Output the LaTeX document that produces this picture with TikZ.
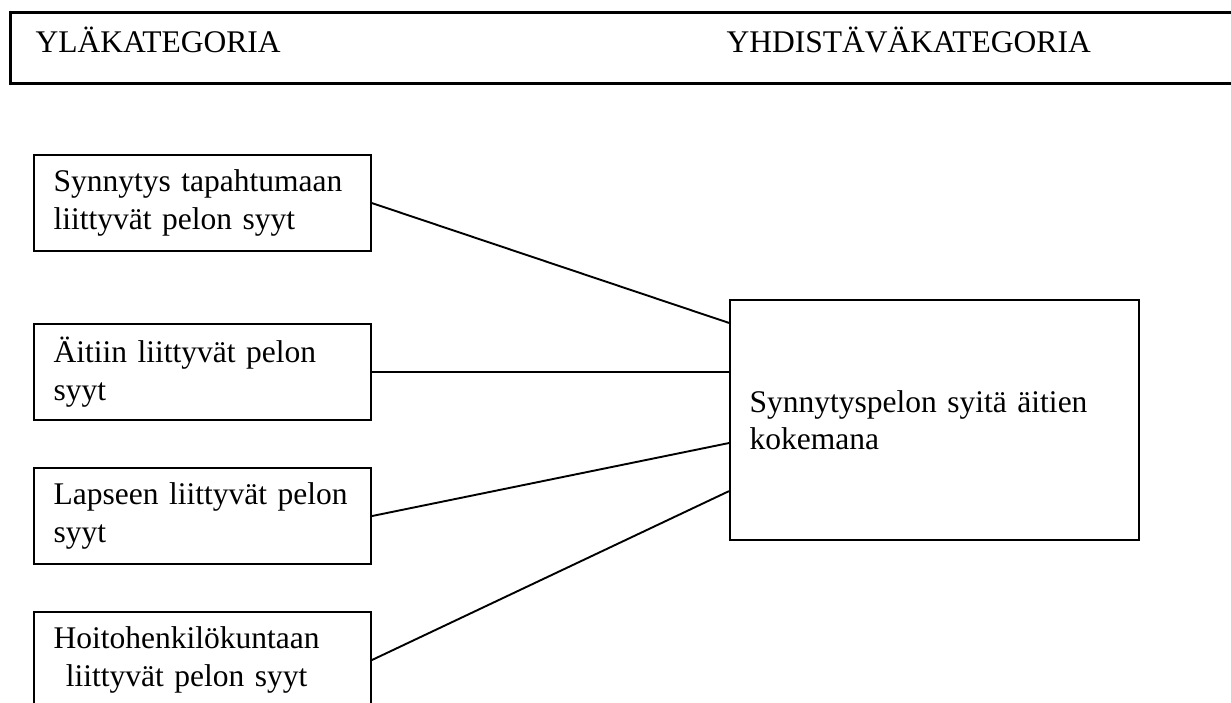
\documentclass[tikz,border=0pt]{standalone}
\usepackage{fontspec}
\setmainfont{Liberation Serif}
\usetikzlibrary{positioning}

\begin{document}
\begin{tikzpicture}[
    x=0.368pt, y=-0.368pt,
    font=\fontsize{11.6}{13.7}\selectfont,
    causebox/.style={draw, line width=0.7pt, anchor=north west, minimum width=124pt, minimum height=35.4pt, text width=109.6pt, inner xsep=7.2pt, inner ysep=0pt, align=left},
    headtext/.style={anchor=base west, inner sep=0pt},
    link/.style={line width=0.7pt}
]
\useasboundingbox (0,0) rectangle (1231,702);

% Header frame
\node[draw, line width=1pt, anchor=north west, minimum width=460pt, minimum height=26.1pt, inner sep=0pt] (header) at (9,11) {};
\node[headtext] (upper) at (35,52) {YLÄKATEGORIA};
\node[headtext] (joining) at (726,52) {YHDISTÄVÄKATEGORIA};

% Upper categories
\node[causebox] (birth) at (33,154) {\mbox{Synnytys tapahtumaan}\\liittyvät pelon syyt};
\node[causebox] (mother) at (33,323) {\mbox{Äitiin liittyvät pelon}\\syyt};
\node[causebox] (child) at (33,467) {\mbox{Lapseen liittyvät pelon}\\syyt};
\node[causebox] (staff) at (33,611) {\begin{tabular}{@{}c@{}}Hoitohenkilökuntaan\\liittyvät pelon syyt\end{tabular}};

% Joining category
\node[causebox, minimum width=150.5pt, minimum height=88.3pt, text width=136.1pt] (fear) at (729,299) {Synnytyspelon syitä äitien\\kokemana};

\draw[link] (birth.east) -- ([yshift=-8.8pt]fear.north west);
\draw[link] (mother.east) -- (mother.east -| fear.west);
\draw[link] (child.east) -- ([yshift=-53pt]fear.north west);
\draw[link] (staff.east) -- ([yshift=-70.7pt]fear.north west);

\end{tikzpicture}
\end{document}
